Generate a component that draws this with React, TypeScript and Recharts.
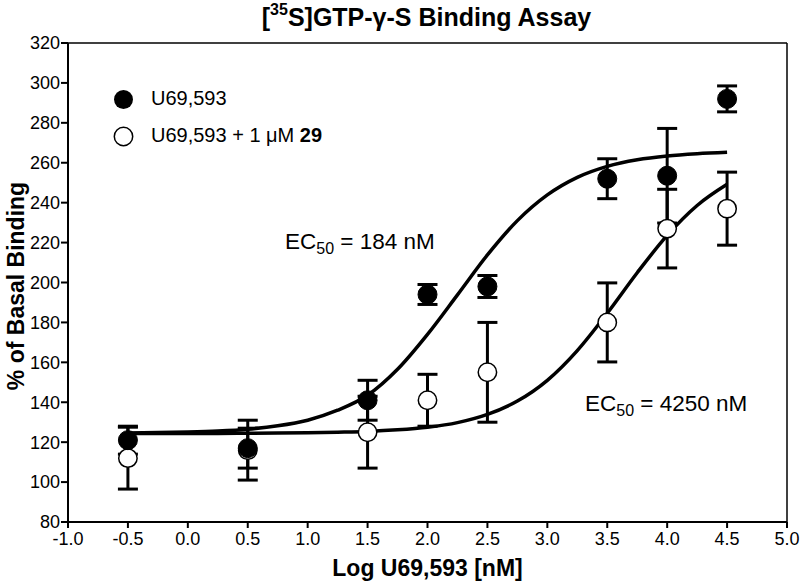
import React from 'react';
import { ComposedChart, Scatter, XAxis, YAxis, ErrorBar, ReferenceLine } from 'recharts';

// Measured points (log concentration, % of basal binding, SEM)
const doses = [-0.5, 0.5, 1.5, 2.0, 2.5, 3.5, 4.0, 4.5];
const agonistValues = [121, 117, 141, 194, 198, 252, 253.5, 292];
const agonistErrors = [7, 10, 10, 5, 5.5, 10, 23.7, 6.5];
const antagonistValues = [112, 116, 125, 141, 155, 180, 227, 237];
const antagonistErrors = [15.5, 15, 18, 13, 25, 19.8, 19.7, 18.3];

// Fitted curves
const curveX = [-0.5, -0.25, 0, 0.25, 0.5, 0.75, 1.0, 1.25, 1.5, 1.75, 2.0, 2.25, 2.5, 2.75, 3.0, 3.25, 3.5, 3.75, 4.0, 4.25, 4.5];
const curve1Y = [124.6, 124.8, 125.1, 125.6, 126.5, 128.2, 131.0, 136.0, 143.5, 156.5, 174, 193.8, 213.8, 231, 243.9, 252.7, 258.2, 261.5, 263.4, 264.5, 265.2];
const curve2Y = [124.4, 124.4, 124.4, 124.4, 124.5, 124.6, 124.7, 125.0, 125.4, 126.2, 127.5, 129.8, 133.9, 140.6, 151.0, 165.9, 184.6, 204.9, 223.6, 238.6, 249.2];

const xTicks = [-1.0, -0.5, 0.0, 0.5, 1.0, 1.5, 2.0, 2.5, 3.0, 3.5, 4.0, 4.5, 5.0];
const yTicks = [80, 100, 120, 140, 160, 180, 200, 220, 240, 260, 280, 300, 320];

const agonistData = doses.map((x, i) => ({ x, y: agonistValues[i], err: agonistErrors[i] }));
const antagonistData = doses.map((x, i) => ({ x, y: antagonistValues[i], err: antagonistErrors[i] }));
const curve1Data = curveX.map((x, i) => ({ x, y: curve1Y[i] }));
const curve2Data = curveX.map((x, i) => ({ x, y: curve2Y[i] }));

const FONT = '"Liberation Sans", Arial, Helvetica, sans-serif';

const FilledDot = (props: any) => (
  <circle cx={props.cx} cy={props.cy} r={9.5} fill="#000" stroke="#000" strokeWidth={1} />
);
const OpenDot = (props: any) => (
  <circle cx={props.cx} cy={props.cy} r={9.2} fill="#fff" stroke="#000" strokeWidth={1.5} />
);
const NoDot = () => null;

export default function App() {
  return (
    <div style={{ position: 'absolute', left: 0, top: 0, width: 800, height: 588, background: '#fff', fontFamily: FONT }}>
      <ComposedChart
        width={800}
        height={588}
        margin={{ top: 43, right: 13, bottom: 36, left: 8 }}
      >
        <XAxis
          type="number"
          dataKey="x"
          domain={[-1, 5]}
          ticks={xTicks}
          tickFormatter={(v: number) => v.toFixed(1)}
          allowDataOverflow
          height={30}
          tickSize={6}
          tickMargin={4}
          stroke="#000"
          strokeWidth={2}
          tick={{ fill: '#000', fontSize: 18, fontFamily: FONT }}
        />
        <YAxis
          type="number"
          dataKey="y"
          domain={[80, 320]}
          ticks={yTicks}
          allowDataOverflow
          width={60}
          tickSize={7}
          tickMargin={1}
          stroke="#000"
          strokeWidth={2}
          tick={{ fill: '#000', fontSize: 18, fontFamily: FONT }}
        />
        <ReferenceLine y={320} stroke="#000" strokeWidth={1.5} />
        <ReferenceLine x={5} stroke="#000" strokeWidth={1.5} />
        <Scatter
          data={curve1Data}
          line={{ stroke: '#000', strokeWidth: 3.5 }}
          lineJointType="monotone"
          shape={NoDot}
          isAnimationActive={false}
        />
        <Scatter
          data={curve2Data}
          line={{ stroke: '#000', strokeWidth: 3.5 }}
          lineJointType="monotone"
          shape={NoDot}
          isAnimationActive={false}
        />
        <Scatter data={antagonistData} shape={OpenDot} isAnimationActive={false}>
          <ErrorBar dataKey="err" direction="y" width={10} stroke="#000" strokeWidth={3} />
        </Scatter>
        <Scatter data={agonistData} shape={FilledDot} isAnimationActive={false}>
          <ErrorBar dataKey="err" direction="y" width={10} stroke="#000" strokeWidth={3} />
        </Scatter>
      </ComposedChart>

      {/* Title */}
      <div style={{ position: 'absolute', left: 0, width: 853, top: 3, textAlign: 'center', fontWeight: 'bold', fontSize: 25, color: '#000', whiteSpace: 'nowrap' }}>
        [<sup style={{ fontSize: 16, verticalAlign: 'top', position: 'relative', top: -2 }}>35</sup>S]GTP-γ-S Binding Assay
      </div>

      {/* Y axis label */}
      <div style={{ position: 'absolute', left: 16, top: 286, width: 0, height: 0 }}>
        <div style={{ position: 'absolute', transform: 'translate(-50%, -50%) rotate(-90deg)', whiteSpace: 'nowrap', fontWeight: 'bold', fontSize: 23, color: '#000' }}>
          % of Basal Binding
        </div>
      </div>

      {/* X axis label */}
      <div style={{ position: 'absolute', left: 0, width: 855, top: 555, textAlign: 'center', fontWeight: 'bold', fontSize: 23, color: '#000', whiteSpace: 'nowrap' }}>
        Log U69,593 [nM]
      </div>

      {/* Legend */}
      <svg style={{ position: 'absolute', left: 110, top: 86 }} width={28} height={64}>
        <circle cx={13.5} cy={13.5} r={9.5} fill="#000" />
        <circle cx={13.5} cy={50.5} r={9.2} fill="#fff" stroke="#000" strokeWidth={1.5} />
      </svg>
      <div style={{ position: 'absolute', left: 151, top: 86, fontSize: 20, color: '#000', whiteSpace: 'nowrap', lineHeight: '24px' }}>
        U69,593
      </div>
      <div style={{ position: 'absolute', left: 151, top: 123, fontSize: 20, color: '#000', whiteSpace: 'nowrap', lineHeight: '24px' }}>
        U69,593 + 1 μM <b>29</b>
      </div>

      {/* EC50 annotations */}
      <div style={{ position: 'absolute', left: 285, top: 229, fontSize: 22.5, color: '#000', whiteSpace: 'nowrap', lineHeight: '26px' }}>
        EC<sub style={{ fontSize: 16, verticalAlign: 'baseline', position: 'relative', top: 5 }}>50</sub> = 184 nM
      </div>
      <div style={{ position: 'absolute', left: 585, top: 391, fontSize: 22.5, color: '#000', whiteSpace: 'nowrap', lineHeight: '26px' }}>
        EC<sub style={{ fontSize: 16, verticalAlign: 'baseline', position: 'relative', top: 5 }}>50</sub> = 4250 nM
      </div>
    </div>
  );
}
